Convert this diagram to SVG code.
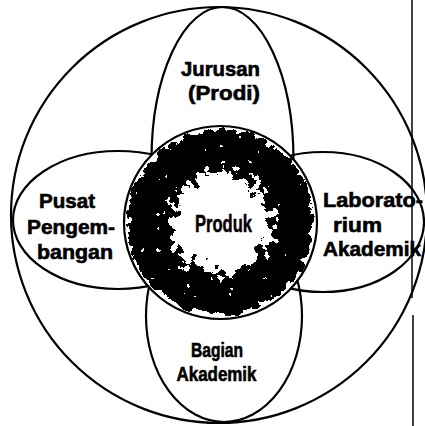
<svg xmlns="http://www.w3.org/2000/svg" width="425" height="426" viewBox="0 0 425 426">
<style>
.ln{fill:none;stroke:#000;stroke-width:2.2}
.t{font-family:"Liberation Sans",Arial,sans-serif;font-weight:bold;font-size:20px;fill:#000;stroke:#000;stroke-width:0.6;text-anchor:middle}
</style>
<defs>
<radialGradient id="g" cx="0.5" cy="0.5" r="0.5">
<stop offset="0" stop-color="#fff"/>
<stop offset="0.3" stop-color="#f8f8f8"/>
<stop offset="0.48" stop-color="#a8a8a8"/>
<stop offset="0.64" stop-color="#2a2a2a"/>
<stop offset="0.9" stop-color="#222"/>
<stop offset="0.96" stop-color="#777"/>
<stop offset="1" stop-color="#eee"/>
</radialGradient>
<filter id="grain" x="0" y="0" width="1" height="1" color-interpolation-filters="sRGB">
<feTurbulence type="fractalNoise" baseFrequency="0.11" numOctaves="4" seed="5" result="n"/>
<feColorMatrix in="n" type="matrix" values="1 0 0 0 0 1 0 0 0 0 1 0 0 0 0 0 0 0 0 1" result="n2"/>
<feComposite in="SourceGraphic" in2="n2" operator="arithmetic" k1="0" k2="1" k3="1.2" k4="-0.6" result="c"/>
<feComponentTransfer in="c">
<feFuncR type="discrete" tableValues="0 1"/>
<feFuncG type="discrete" tableValues="0 1"/>
<feFuncB type="discrete" tableValues="0 1"/>
<feFuncA type="linear" slope="1" intercept="0"/>
</feComponentTransfer>
</filter>
<clipPath id="cc"><circle cx="220.5" cy="222.5" r="96.5"/></clipPath>
</defs>
<rect width="425" height="426" fill="#fff"/>
<g id="connectors">
<line x1="412" y1="0" x2="412" y2="298" stroke="#000" stroke-width="1.5"/>
<line x1="413" y1="315" x2="413" y2="426" stroke="#000" stroke-width="1.5"/>
</g>
<g id="outer"><circle class="ln" cx="219" cy="215" r="208"/></g>
<g id="jurusan">
<ellipse class="ln" cx="222.5" cy="160" rx="71" ry="153"/>
<text class="t" x="220.5" y="76" textLength="79" lengthAdjust="spacingAndGlyphs">Jurusan</text>
<text class="t" x="224" y="100" textLength="72" lengthAdjust="spacingAndGlyphs">(Prodi)</text>
</g>
<g id="pusat">
<ellipse class="ln" cx="118" cy="220" rx="105" ry="69"/>
<text class="t" x="67" y="208" textLength="56" lengthAdjust="spacingAndGlyphs">Pusat</text>
<text class="t" x="71" y="234" textLength="88" lengthAdjust="spacingAndGlyphs">Pengem-</text>
<text class="t" x="75" y="259" textLength="76" lengthAdjust="spacingAndGlyphs">bangan</text>
</g>
<g id="lab">
<ellipse class="ln" cx="323" cy="222" rx="101" ry="70"/>
<text class="t" x="373" y="207" textLength="100" lengthAdjust="spacingAndGlyphs">Laborato-</text>
<text class="t" x="357.5" y="232" textLength="49" lengthAdjust="spacingAndGlyphs">rium</text>
<text class="t" x="372" y="256" textLength="98" lengthAdjust="spacingAndGlyphs">Akademik</text>
</g>
<g id="bagian">
<ellipse class="ln" cx="224" cy="316" rx="78" ry="106"/>
<text class="t" x="217" y="357" font-size="21" textLength="52" lengthAdjust="spacingAndGlyphs">Bagian</text>
<text class="t" x="216.5" y="381" font-size="21" textLength="80" lengthAdjust="spacingAndGlyphs">Akademik</text>
</g>
<g id="produk">
<circle cx="220.5" cy="222.5" r="96.5" fill="#fff"/>
<g clip-path="url(#cc)">
<rect x="124" y="126" width="193" height="193" fill="url(#g)" filter="url(#grain)"/>
</g>
<circle cx="220.5" cy="222.5" r="96.5" fill="none" stroke="#000" stroke-width="2.2"/>
<text x="223.5" y="232" font-family="'Liberation Sans',Arial,sans-serif" font-weight="bold" font-size="24" stroke="#000" stroke-width="0.5" text-anchor="middle" textLength="57" lengthAdjust="spacingAndGlyphs">Produk</text>
</g>
</svg>
